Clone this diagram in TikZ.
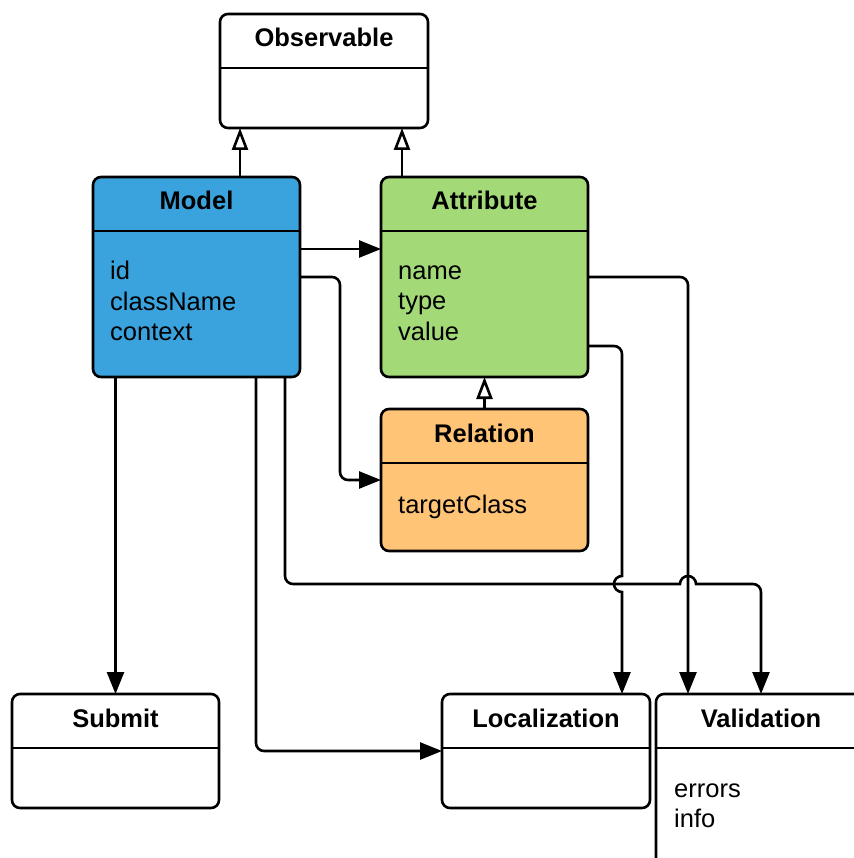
\documentclass[tikz,border=0pt]{standalone}
\usepackage{fontspec}
\setmainfont{Liberation Sans}
\usetikzlibrary{arrows.meta,calc}
\definecolor{modelblue}{HTML}{3AA3DD}
\definecolor{attrgreen}{HTML}{A3D977}
\definecolor{relorange}{HTML}{FFC476}
\begin{document}
\begin{tikzpicture}[x=1pt,y=-1pt,
  classbox/.style={draw=black, line width=2.6pt, rounded corners=8pt, anchor=north west, inner sep=0pt, outer sep=0pt},
  title/.style={font=\fontsize{25.5}{30}\selectfont\bfseries, anchor=base, inner sep=0pt},
  members/.style={font=\fontsize{25.5}{30.5}\selectfont, anchor=north west, align=left, inner sep=0pt},
  divider/.style={line width=2.6pt},
  conn/.style={line width=2.6pt, rounded corners=8pt, -{Triangle[length=22pt,width=17pt]}},
  inherit/.style={line width=2.6pt, -{Triangle[open,length=22pt,width=16pt,fill=white]}}
]
\useasboundingbox (0,0) rectangle (853,858);

% class boxes
\node[classbox, minimum width=208pt, minimum height=114pt] (observable) at (220,14) {};
\node[classbox, fill=modelblue, minimum width=207pt, minimum height=200pt] (model) at (93,177) {};
\node[classbox, fill=attrgreen, minimum width=207pt, minimum height=200pt] (attribute) at (381,177) {};
\node[classbox, fill=relorange, minimum width=207pt, minimum height=142pt] (relation) at (381,409) {};
\node[classbox, minimum width=207pt, minimum height=114pt] (submit) at (12,694) {};
\node[classbox, minimum width=208pt, minimum height=114pt] (localization) at (442,694) {};
\node[classbox, minimum width=210pt, minimum height=200pt] (validation) at (656,694) {};

% header dividers
\foreach \b in {observable,model,attribute,relation,submit,localization,validation}
  \draw[divider] ($(\b.north west)+(0,54)$) -- ($(\b.north east)+(0,54)$);

% titles
\foreach \b/\t in {observable/Observable,model/Model,attribute/Attribute,relation/Relation,submit/Submit,localization/Localization,validation/Validation}
  \node[title] (\b-title) at ($(\b.north)+(0,33)$) {\t};

% members
\node[members] (model-members) at ($(model.north west)+(17,84)$) {\rule{0pt}{18pt}id\\className\\context};
\node[members] (attribute-members) at ($(attribute.north west)+(17,84)$) {\rule{0pt}{18pt}name\\type\\value};
\node[members] (relation-members) at ($(relation.north west)+(17,86)$) {\rule{0pt}{18pt}targetClass};
\node[members] (validation-members) at ($(validation.north west)+(18,85)$) {\rule{0pt}{18pt}errors\\info};

% inheritance
\draw[inherit] ($(model.north west)+(147,0)$) coordinate (mo) -- (mo |- observable.south);
\draw[inherit] ($(attribute.north west)+(21,0)$) coordinate (ao) -- (ao |- observable.south);
\draw[inherit] (relation.north) -- (relation.north |- attribute.south);

% helper coordinates
\coordinate (bus) at ($(model.south east)+(-15,207)$);
\coordinate (av) at ($(attribute.north east)+(100,100)$);
\coordinate (al) at ($(attribute.south east)+(34,-31)$);
\coordinate (x1) at (al |- bus);
\coordinate (x2) at (av |- bus);

% associations
\draw[conn] ($(model.north east)+(0,72)$) coordinate (ma) -- (ma -| attribute.west);
\draw[conn] (model.east) -- ++(40,0) |- (relation.west);
\draw[conn] (model.south -| submit.north) -- (submit.north);
\draw[conn] ($(model.south east)+(-44,0)$) |- (localization.west);
\draw[conn] ($(model.south east)+(-15,0)$) -- (bus) -- ($(x2)+(-24,0)$)
  [sharp corners] -- ($(x2)+(-8,0)$)
  .. controls ($(x2)+(-8,-4.4)$) and ($(x2)+(-4.4,-8)$) .. ($(x2)+(0,-8)$)
  .. controls ($(x2)+(4.4,-8)$) and ($(x2)+(8,-4.4)$) .. ($(x2)+(8,0)$)
  -- ($(x2)+(24,0)$) [rounded corners=8pt] -- (validation.north |- bus) -- (validation.north);
\draw[conn] (attribute.east |- av) -- (av) -- (av |- validation.north);
\draw[conn] (attribute.east |- al) -- (al) -- ($(x1)+(0,-24)$)
  [sharp corners] -- ($(x1)+(0,-8)$)
  .. controls ($(x1)+(-4.4,-8)$) and ($(x1)+(-8,-4.4)$) .. ($(x1)+(-8,0)$)
  .. controls ($(x1)+(-8,4.4)$) and ($(x1)+(-4.4,8)$) .. ($(x1)+(0,8)$)
  -- (al |- localization.north);
\end{tikzpicture}
\end{document}
